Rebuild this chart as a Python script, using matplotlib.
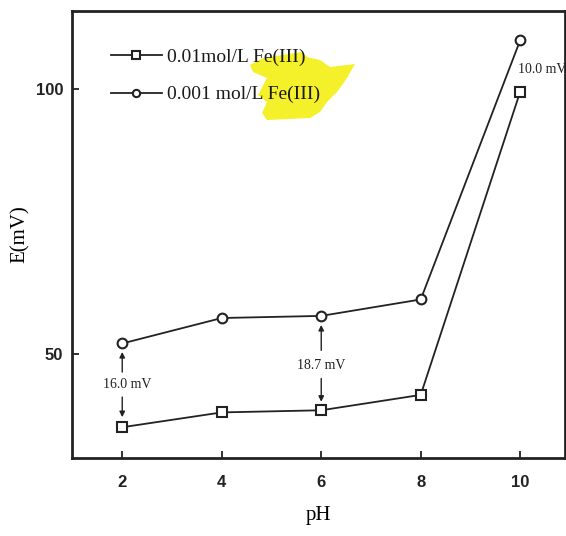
import matplotlib
matplotlib.use("Agg")
import matplotlib.pyplot as plt
from matplotlib.patches import Polygon

# Data
ph = [2, 4, 6, 8, 10]
e_001 = [36.2, 39.0, 39.4, 42.3, 99.5]      # 0.01 mol/L Fe(III), squares
e_0001 = [52.0, 56.8, 57.2, 60.3, 109.2]    # 0.001 mol/L Fe(III), circles
labels = ["0.01mol/L Fe(III)", "0.001 mol/L Fe(III)"]
xticks = [2, 4, 6, 8, 10]
yticks = [50, 100]
diff_labels = ["16.0 mV", "18.7 mV", "10.0 mV"]

W, H = 566, 536
fig = plt.figure(figsize=(W / 100, H / 100), dpi=100)
ax = fig.add_axes([71.5 / W, 1 - 458 / H, (565 - 71.5) / W, (458 - 11) / H])
ax.set_facecolor("none")

# yellow highlighter mark (scan artifact) behind the legend text
pts = [(250, 65), (263, 58), (302, 52), (307, 57), (320, 60), (330, 67),
       (355, 64), (347, 78), (337, 92), (327, 102), (320, 112), (310, 118),
       (267, 120), (262, 113), (267, 102), (258, 95), (267, 78), (253, 72)]
poly = Polygon([(x / W, 1 - y / H) for x, y in pts], closed=True,
               transform=fig.transFigure, facecolor="#f4f02a", edgecolor="none",
               zorder=0.5)
ax.add_patch(poly)

lw = 1.3
ax.plot(ph, e_001, color="#222222", lw=lw, marker="s", ms=7, mfc="white",
        mec="#222222", mew=1.5, label=labels[0])
ax.plot(ph, e_0001, color="#222222", lw=lw, marker="o", ms=7, mfc="white",
        mec="#222222", mew=1.5, label=labels[1])

ax.set_xlim(0.98, 10.9)
ax.set_ylim(30.4, 114.7)
ax.set_xticks(xticks)
ax.set_yticks(yticks)
ax.tick_params(direction="in", length=5, width=1.3, colors="#222222",
               labelsize=12, top=False, right=False)
for lab in ax.get_xticklabels() + ax.get_yticklabels():
    lab.set_fontfamily("Liberation Sans")
    lab.set_fontweight("bold")
ax.tick_params(axis="x", pad=12)
ax.tick_params(axis="y", pad=6)
for s in ax.spines.values():
    s.set_linewidth(2.0)
    s.set_color("#222222")

ax.set_xlabel("pH", fontfamily="Liberation Serif", fontsize=15, labelpad=12)
ax.set_ylabel("E(mV)", fontfamily="Liberation Serif", fontsize=15, labelpad=4)

leg = ax.legend(loc="upper left", bbox_to_anchor=(0.045, 0.955), frameon=False,
                handlelength=2.6, handletextpad=0.25, labelspacing=1.0,
                markerscale=0.75, prop={"family": "Liberation Serif", "size": 14})
for t in leg.get_texts():
    t.set_color("#1a1a1a")

# difference annotations
arrowprops = dict(arrowstyle="-|>", color="#222222", lw=1.0,
                  mutation_scale=8, shrinkA=0, shrinkB=0)
afont = dict(family="Liberation Serif", size=10, color="#222222")

# pH 2
ax.text(ph[0] + 0.1, 44.2, diff_labels[0], ha="center", va="center", **afont)
ax.annotate("", xy=(ph[0], e_0001[0] - 1.6), xytext=(ph[0], 46.6),
            arrowprops=arrowprops)
ax.annotate("", xy=(ph[0], e_001[0] + 1.9), xytext=(ph[0], 41.9),
            arrowprops=arrowprops)
# pH 6
ax.text(ph[2], 47.9, diff_labels[1], ha="center", va="center", **afont)
ax.annotate("", xy=(ph[2], e_0001[2] - 1.7), xytext=(ph[2], 50.7),
            arrowprops=arrowprops)
ax.annotate("", xy=(ph[2], e_001[2] + 1.6), xytext=(ph[2], 45.4),
            arrowprops=arrowprops)
# pH 10
ax.text(ph[4] - 0.04, 103.6, diff_labels[2], ha="left", va="center", **afont)

fig.savefig("out.png", dpi=100)
